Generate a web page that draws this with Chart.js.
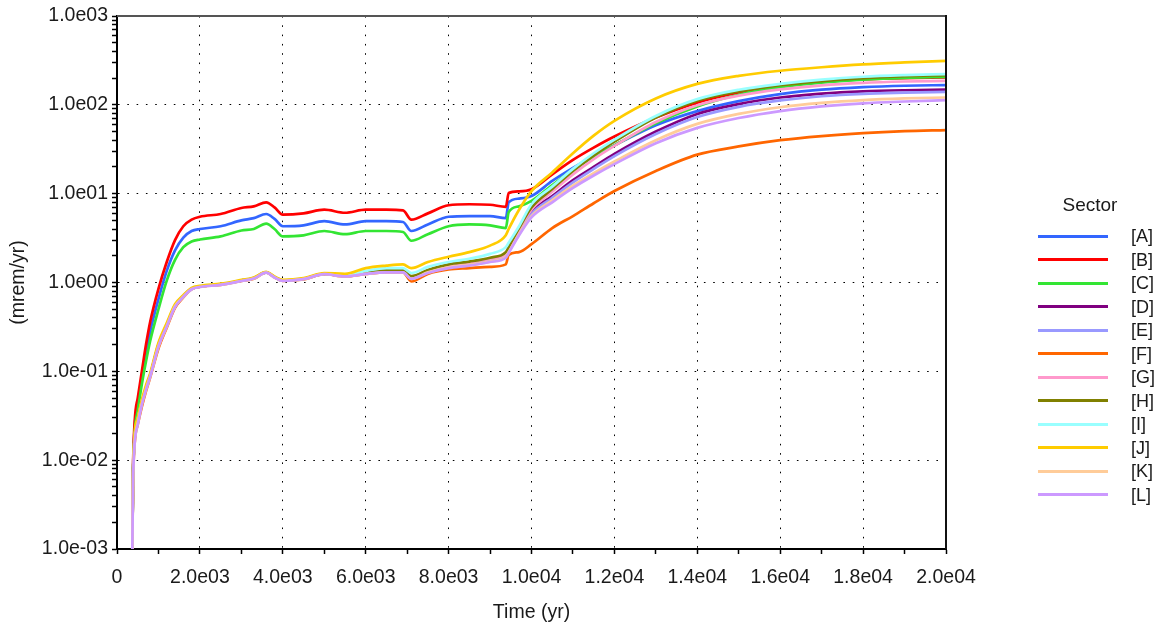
<!DOCTYPE html>
<html><head><meta charset="utf-8">
<script src="https://cdn.jsdelivr.net/npm/chart.js@4.4.1/dist/chart.umd.min.js"></script>
<style>
html,body{margin:0;padding:0;background:#fff;}
#wrap{position:relative;width:1159px;height:631px;overflow:hidden;}
#legend{position:absolute;left:0;top:0;width:1159px;height:631px;pointer-events:none;font-family:"Liberation Sans",Arial,sans-serif;font-size:18px;color:#1a1a1a;}
#legend .title{position:absolute;left:1040px;width:100px;text-align:center;top:194px;line-height:22px;font-size:19px;}
#legend .row{position:absolute;left:1038px;height:22px;line-height:22px;}
#legend .sw{position:absolute;left:0;top:9.5px;width:70px;height:3px;}
#legend .lb{position:absolute;left:93px;top:0;white-space:nowrap;}
</style></head>
<body>
<div id="wrap">
<canvas id="c" width="1159" height="631"></canvas>
<div id="legend"></div>
</div>
<script>
// ---------- data ----------
const times = [370, 390, 500, 600, 700, 800, 1000, 1200, 1400, 1600, 1800, 2000, 2500, 3000, 3300, 3600, 3800, 4000, 4500, 5000, 5500, 6000, 6500, 6900, 7100, 7500, 8000, 8500, 9000, 9380, 9450, 9700, 10000, 10500, 11000, 11500, 12000, 13000, 14000, 15000, 16000, 17000, 18000, 19000, 20000];

const sectorA = [0.001,0.009,0.042,0.085,0.16,0.28,0.65,1.35,2.3,3.2,3.8,4.0,4.3,5.0,5.3,5.9,5.2,4.3,4.4,4.9,4.5,4.9,4.9,4.8,3.8,4.5,5.5,5.6,5.6,5.3,8.0,8.8,9.4,13.9,19.5,26.5,35,59,85,110,132,148,158,164,167];
const sectorB = [0.001,0.01,0.05,0.1,0.2,0.36,0.85,1.7,3.0,4.3,5.1,5.5,5.9,6.9,7.2,8.0,7.0,5.8,6.0,6.6,6.1,6.6,6.6,6.5,5.1,6.0,7.4,7.6,7.5,7.1,10.2,10.6,11.2,16.5,24,33,44,72,106,138,164,182,193,200,203];
const sectorC = [0.001,0.008,0.036,0.072,0.13,0.22,0.5,1.05,1.8,2.5,2.9,3.05,3.3,3.85,4.0,4.6,4.0,3.3,3.4,3.8,3.5,3.8,3.8,3.7,2.95,3.5,4.3,4.5,4.4,4.1,6.2,7.2,8.3,12.5,18.5,26,35,62,96,130,158,178,192,201,206];
const sectorD = [0.001,0.008,0.028,0.045,0.065,0.09,0.2,0.33,0.55,0.7,0.85,0.9,0.95,1.05,1.12,1.3,1.15,1.05,1.1,1.25,1.18,1.27,1.33,1.33,1.13,1.33,1.52,1.64,1.8,2.05,2.3,3.7,6.2,9.4,14.2,20,28,50,79,102,121,134,142,146,148];
const sectorE = [0.001,0.008,0.027,0.044,0.064,0.09,0.19,0.33,0.54,0.7,0.84,0.9,0.95,1.05,1.12,1.3,1.15,1.05,1.1,1.25,1.18,1.26,1.32,1.32,1.12,1.32,1.5,1.62,1.78,2.0,2.25,3.6,5.9,9.0,13.4,19,26.5,47,73,95,112,125,133,137,140];
const sectorF = [0.001,0.007,0.025,0.04,0.06,0.085,0.18,0.31,0.52,0.68,0.84,0.9,0.94,1.04,1.1,1.3,1.15,1.04,1.08,1.24,1.17,1.25,1.3,1.3,1.03,1.25,1.4,1.45,1.5,1.6,2.05,2.2,2.7,4.1,5.6,7.8,10.7,18,27.5,34,40,44.5,48,50.5,52];
const sectorG = [0.001,0.008,0.028,0.045,0.065,0.09,0.2,0.33,0.55,0.7,0.85,0.9,0.95,1.05,1.12,1.3,1.15,1.05,1.1,1.25,1.18,1.28,1.35,1.35,1.15,1.35,1.55,1.68,1.85,2.1,2.4,3.9,6.6,10.5,16.5,24.5,34.5,64,99,127,149,166,177,183,186];
const sectorH = [0.001,0.008,0.028,0.045,0.065,0.09,0.2,0.33,0.55,0.7,0.85,0.9,0.95,1.05,1.12,1.3,1.15,1.05,1.1,1.25,1.18,1.3,1.38,1.38,1.18,1.38,1.6,1.72,1.9,2.2,2.5,4.1,7.0,11.3,18,27,38.5,72,111,142,166,185,200,210,216];
const sectorI = [0.001,0.008,0.029,0.046,0.066,0.092,0.2,0.34,0.56,0.71,0.86,0.91,0.96,1.06,1.13,1.31,1.16,1.06,1.11,1.26,1.2,1.35,1.45,1.45,1.28,1.5,1.7,1.85,2.1,2.5,2.8,4.3,7.6,12,19,28.5,40.5,75,116,148,172,192,207,216,222];
const sectorJ = [0.001,0.009,0.03,0.048,0.07,0.095,0.21,0.35,0.57,0.72,0.87,0.92,0.97,1.07,1.14,1.32,1.17,1.07,1.12,1.28,1.25,1.45,1.55,1.6,1.45,1.7,1.95,2.2,2.6,3.4,4.0,6.6,10.7,17.3,28.5,45,66,118,172,212,242,265,285,300,313];
const sectorK = [0.001,0.007,0.026,0.043,0.063,0.088,0.19,0.32,0.54,0.69,0.84,0.89,0.94,1.04,1.11,1.29,1.14,1.04,1.09,1.24,1.17,1.25,1.3,1.3,1.1,1.3,1.48,1.58,1.72,1.95,2.2,3.5,5.6,8.4,12.3,17,23,40,61,79,94,105,113,118,121];
const sectorL = [0.001,0.007,0.025,0.042,0.062,0.087,0.19,0.32,0.53,0.69,0.84,0.89,0.94,1.04,1.11,1.29,1.14,1.04,1.09,1.24,1.17,1.25,1.3,1.3,1.1,1.28,1.45,1.55,1.7,1.9,2.15,3.4,5.4,8.0,11.6,16,21.5,37,55,71,85,96,104,109,113];

const sectorNames = ['[A]','[B]','[C]','[D]','[E]','[F]','[G]','[H]','[I]','[J]','[K]','[L]'];
const sectorValues = [sectorA,sectorB,sectorC,sectorD,sectorE,sectorF,sectorG,sectorH,sectorI,sectorJ,sectorK,sectorL];
const sectorColors = ['#3366FF','#FF0000','#33E533','#800080','#9999FF','#FF6600','#FF99CC','#808000','#99FFFF','#FFCC00','#FFCC99','#CC99FF'];

const xTickValues = [0,1000,2000,3000,4000,5000,6000,7000,8000,9000,10000,11000,12000,13000,14000,15000,16000,17000,18000,19000,20000];
const xTickLabels = {0:'0',2000:'2.0e03',4000:'4.0e03',6000:'6.0e03',8000:'8.0e03',10000:'1.0e04',12000:'1.2e04',14000:'1.4e04',16000:'1.6e04',18000:'1.8e04',20000:'2.0e04'};
const yDecades = [1e-3,1e-2,1e-1,1e0,1e1,1e2,1e3];
const yTickLabels = ['1.0e-03','1.0e-02','1.0e-01','1.0e00','1.0e01','1.0e02','1.0e03'];
const xTitle = 'Time (yr)';
const yTitle = '(mrem/yr)';
const legendTitle = 'Sector';

// ---------- chart ----------
const FONT = '"Liberation Sans", Arial, sans-serif';
const FS = 19.5;
const TXT = '#1a1a1a';
const isDecade = v => yDecades.some(d => Math.abs(v/d - 1) < 1e-6);
const yLabelFor = v => { for (let i=0;i<yDecades.length;i++) if (Math.abs(v/yDecades[i]-1)<1e-6) return yTickLabels[i]; return ''; };

const frame = {
  id:'frame',
  afterDatasetsDraw(chart){
    const {ctx, chartArea:a} = chart;
    ctx.save();
    ctx.lineWidth = 2;
    ctx.strokeStyle = '#555';
    ctx.beginPath(); ctx.moveTo(a.left, a.top); ctx.lineTo(a.right, a.top); ctx.stroke();
    ctx.strokeStyle = '#111';
    ctx.beginPath(); ctx.moveTo(a.right, a.top-1); ctx.lineTo(a.right, a.bottom); ctx.stroke();
    ctx.restore();
  }
};

new Chart(document.getElementById('c'), {
  type:'line',
  data:{
    datasets: sectorNames.map((n,i)=>({
      label:n,
      data: times.map((t,j)=>({x:t, y:sectorValues[i][j]})),
      borderColor: sectorColors[i],
      backgroundColor: sectorColors[i],
      borderWidth: 2.7,
      pointRadius: 0,
      cubicInterpolationMode: 'monotone',
      fill:false,
      order: 12 - i
    }))
  },
  options:{
    responsive:false,
    animation:false,
    layout:{padding:{left:0, top:16, right:213, bottom:0}},
    plugins:{legend:{display:false}, tooltip:{enabled:false}},
    scales:{
      x:{
        type:'linear', min:0, max:20000,
        afterBuildTicks: s => { s.ticks = xTickValues.map(v=>({value:v})); },
        afterFit: s => { s.height = 82; },
        ticks:{ autoSkip:false, maxRotation:0, padding:12, color:TXT, font:{family:FONT, size:FS},
          callback: v => (xTickLabels[v] !== undefined ? xTickLabels[v] : '') },
        grid:{ lineWidth:1, tickLength:5, tickColor:'#000', tickWidth:1.5,
          color: c => (c.tick && c.tick.value % 2000 === 0 && c.tick.value !== 0 && c.tick.value !== 20000) ? '#000' : 'rgba(0,0,0,0)' },
        border:{ color:'#000', width:2, dash:[1.6,7.7] },
        title:{ display:true, text:xTitle, color:TXT, font:{family:FONT, size:FS}, padding:{top:0,bottom:7} }
      },
      y:{
        type:'logarithmic', min:1e-3, max:1e3,
        afterBuildTicks: s => {
          const t=[];
          for (let e=-3;e<3;e++) for (let m=1;m<10;m++) t.push({value: m*Math.pow(10,e), major: m===1});
          t.push({value:1e3, major:true});
          s.ticks = t;
        },
        afterFit: s => { s.width = 117; },
        ticks:{ autoSkip:false, padding:4, color:TXT, font:{family:FONT, size:FS},
          callback: v => yLabelFor(v) },
        grid:{ lineWidth:1, tickLength:5, tickColor:'#000', tickWidth:1.5,
          color: c => (c.tick && isDecade(c.tick.value) && Math.abs(c.tick.value-1e3)>1 && Math.abs(c.tick.value-1e-3)>1e-9) ? '#000' : 'rgba(0,0,0,0)' },
        border:{ color:'#000', width:2, dash:[1.6,7.7] },
        title:{ display:true, text:yTitle, color:TXT, font:{family:FONT, size:FS}, padding:{top:6.5,bottom:0} }
      }
    }
  },
  plugins:[frame]
});

// ---------- legend (HTML) ----------
const lg = document.getElementById('legend');
const t = document.createElement('div'); t.className='title'; t.textContent = legendTitle; lg.appendChild(t);
sectorNames.forEach((n,i)=>{
  const r = document.createElement('div'); r.className='row'; r.style.top = (225 + i*23.5) + 'px';
  const sw = document.createElement('div'); sw.className='sw'; sw.style.background = sectorColors[i];
  const lb = document.createElement('div'); lb.className='lb'; lb.textContent = n;
  r.appendChild(sw); r.appendChild(lb); lg.appendChild(r);
});
</script>
</body></html>
